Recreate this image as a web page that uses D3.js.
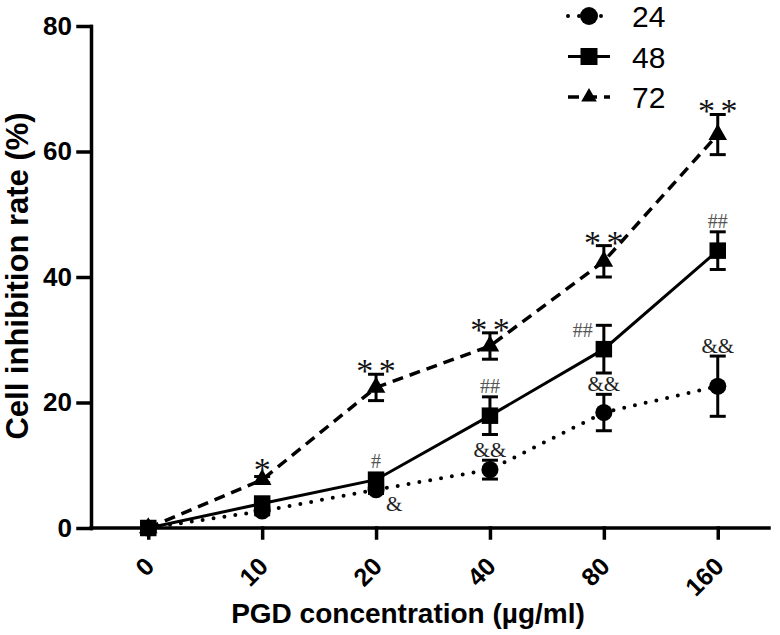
<!DOCTYPE html>
<html>
<head>
<meta charset="utf-8">
<script src="https://cdn.jsdelivr.net/npm/d3@7"></script>
<style>
  body { margin: 0; background: #fff; }
  text { font-family: "Liberation Sans", Arial, sans-serif; }
</style>
</head>
<body>
<svg id="chart" width="780" height="635"></svg>
<script>
// === Data ===
const doses = ["0", "10", "20", "40", "80", "160"];
const seriesNames = ["24", "48", "72"];

const rate24 = [0, 2.7, 6.1, 9.3, 18.4, 22.6];
const err24  = [0.3, 0.6, 0.6, 1.5, 2.9, 4.8];
const rate48 = [0, 3.9, 7.7, 17.9, 28.5, 44.2];
const err48  = [0.5, 0.6, 0.9, 3.0, 3.8, 3.0];
const rate72 = [0, 7.7, 22.4, 29.0, 42.5, 62.7];
const err72  = [0.3, 0.5, 2.1, 2.1, 2.5, 3.2];

const marks24 = ["", "", "&", "&&", "&&", "&&"];
const marks48 = ["", "", "#", "##", "##", "##"];
const marks72 = ["", "*", "* *", "* *", "* *", "* *"];

const yTicks = [0, 20, 40, 60, 80];

// === Setup ===
const svg = d3.select("#chart");
const axisX0 = 91;      // x position of the y axis
const axisY0 = 528;     // y position of the x axis

const x = d3.scalePoint()
  .domain(doses)
  .range([97, 769])
  .padding(0.45);

const y = d3.scaleLinear()
  .domain([0, 80])
  .range([axisY0, 26]);

const styles = {
  "24": { dash: "0 11", width: 4,   shape: d3.symbolCircle,   size: 230, legendSize: 254 },
  "48": { dash: null,   width: 3,   shape: d3.symbolSquare,   size: 272, legendSize: 289 },
  "72": { dash: "11 7", width: 3.5, shape: d3.symbolTriangle, size: 150, legendSize: 105 }
};

const series = [
  { name: "24", values: rate24, errs: err24 },
  { name: "72", values: rate72, errs: err72 },
  { name: "48", values: rate48, errs: err48 }
];

const rows = s => doses.map((d, i) => ({ dose: d, v: s.values[i], e: s.errs[i], i }));

// === Axes ===
const xAxis = svg.append("g")
  .attr("transform", `translate(0, ${axisY0})`)
  .call(d3.axisBottom(x).tickSize(10).tickSizeOuter(0));
xAxis.select(".domain").attr("d", `M${axisX0},0H769`);
xAxis.selectAll("text")
  .attr("x", 0).attr("y", 0).attr("dy", null)
  .attr("text-anchor", "end")
  .attr("transform", "translate(7, 40) rotate(-45)")
  .style("font-family", "'Liberation Sans', Arial, sans-serif")
  .style("font-size", "25px")
  .style("font-weight", "bold")
  .attr("fill", "#000");

const yAxis = svg.append("g")
  .attr("transform", `translate(${axisX0}, 0)`)
  .call(d3.axisLeft(y).tickValues(yTicks).tickSize(13).tickSizeOuter(0).tickPadding(6));
yAxis.selectAll("text")
  .style("font-family", "'Liberation Sans', Arial, sans-serif")
  .style("font-size", "26px")
  .style("font-weight", "bold")
  .attr("fill", "#000");

svg.selectAll(".domain, .tick line")
  .attr("stroke", "#000")
  .attr("stroke-width", 3.5)
  .attr("stroke-linecap", "square");

// Axis titles
svg.append("text")
  .attr("transform", "translate(28, 276) rotate(-90)")
  .attr("text-anchor", "middle")
  .style("font-size", "31px")
  .style("font-weight", "bold")
  .text("Cell inhibition rate (%)");

svg.append("text")
  .attr("x", 408)
  .attr("y", 623)
  .attr("text-anchor", "middle")
  .style("font-size", "28px")
  .style("font-weight", "bold")
  .text("PGD concentration (µg/ml)");

// === Lines ===
const line = d3.line()
  .x(d => x(d.dose))
  .y(d => y(d.v));

series.forEach(s => {
  const st = styles[s.name];
  svg.append("path")
    .datum(rows(s))
    .attr("d", line)
    .attr("fill", "none")
    .attr("stroke", "#000")
    .attr("stroke-width", st.width)
    .attr("stroke-dasharray", st.dash)
    .attr("stroke-linecap", s.name === "24" ? "round" : "butt");
});

// === Error bars + markers ===
series.forEach(s => {
  const st = styles[s.name];
  const g = svg.append("g");
  const data = rows(s);

  const bars = g.selectAll(".err")
    .data(data)
    .enter()
    .append("g")
    .attr("stroke", "#000")
    .attr("stroke-width", 3);

  bars.append("line")
    .attr("x1", d => x(d.dose)).attr("x2", d => x(d.dose))
    .attr("y1", d => y(d.v - d.e)).attr("y2", d => y(d.v + d.e));
  bars.append("line")
    .attr("x1", d => x(d.dose) - 8).attr("x2", d => x(d.dose) + 8)
    .attr("y1", d => y(d.v + d.e)).attr("y2", d => y(d.v + d.e));
  bars.append("line")
    .attr("x1", d => x(d.dose) - 8).attr("x2", d => x(d.dose) + 8)
    .attr("y1", d => y(d.v - d.e)).attr("y2", d => y(d.v - d.e));

  g.selectAll(".pt")
    .data(data)
    .enter()
    .append("path")
    .attr("d", d3.symbol(st.shape, st.size))
    .attr("transform", d => `translate(${x(d.dose)}, ${y(d.v)})`)
    .attr("fill", "#000");
});

// === Significance marks ===
const serif = "'Liberation Serif', 'Times New Roman', serif";

// * for 72 h
svg.selectAll(".mk72")
  .data(rows({ values: rate72, errs: err72 }).filter(d => marks72[d.i]))
  .enter()
  .append("text")
  .attr("x", d => x(d.dose))
  .attr("y", d => Math.min(y(d.v + d.e), y(d.v) - 7) + 8)
  .attr("text-anchor", "middle")
  .style("font-family", serif)
  .style("font-size", "34px")
  .style("word-spacing", "-3px")
  .attr("fill", "#111")
  .text(d => marks72[d.i]);

// # for 48 h
svg.selectAll(".mk48")
  .data(rows({ values: rate48, errs: err48 }).filter(d => marks48[d.i]))
  .enter()
  .append("text")
  .attr("x", d => d.i === 4 ? x(d.dose) - 11 : x(d.dose))
  .attr("y", d => d.i === 4
    ? y(d.v + d.e) + 12
    : Math.min(y(d.v + d.e), y(d.v) - 8) - 4)
  .attr("text-anchor", d => d.i === 4 ? "end" : "middle")
  .style("font-family", serif)
  .style("font-size", "20px")
  .attr("fill", "#555")
  .text(d => marks48[d.i]);

// & for 24 h
svg.selectAll(".mk24")
  .data(rows({ values: rate24, errs: err24 }).filter(d => marks24[d.i]))
  .enter()
  .append("text")
  .attr("x", d => d.i === 2 ? x(d.dose) + 10 : x(d.dose))
  .attr("y", d => d.i === 2 ? y(d.v) + 21 : y(d.v + d.e) - 3)
  .attr("text-anchor", d => d.i === 2 ? "start" : "middle")
  .style("font-family", serif)
  .style("font-size", "21px")
  .attr("fill", "#222")
  .text(d => marks24[d.i]);

// === Legend ===
const legend = svg.append("g");
const legendRowY = d3.scalePoint().domain(seriesNames).range([16, 97]);

seriesNames.forEach(name => {
  const st = styles[name];
  const ly = legendRowY(name);
  legend.append("line")
    .attr("x1", 568).attr("x2", 610)
    .attr("y1", ly).attr("y2", ly)
    .attr("stroke", "#000")
    .attr("stroke-width", st.width)
    .attr("stroke-dasharray", st.dash)
    .attr("stroke-linecap", name === "24" ? "round" : "butt");
  legend.append("path")
    .attr("d", d3.symbol(st.shape, st.legendSize))
    .attr("transform", `translate(589, ${ly})`)
    .attr("fill", "#000");
  legend.append("text")
    .attr("x", 632)
    .attr("y", ly + 11)
    .style("font-size", "30px")
    .text(name);
});
</script>
</body>
</html>
